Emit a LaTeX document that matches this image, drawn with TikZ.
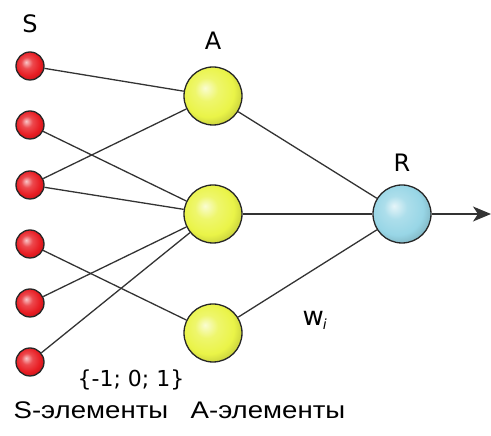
\documentclass[tikz,border=0pt]{standalone}
\usepackage{fontspec}
\setmainfont{DejaVu Sans}
\newfontfamily\capfont{Liberation Sans}
\usepackage{graphicx}
\usetikzlibrary{arrows.meta}

\definecolor{sred}{RGB}{232,28,34}
\definecolor{syellow}{RGB}{234,244,72}
\definecolor{sblue}{RGB}{152,214,230}

% soft sphere shading, light spot up and to the left
\colorlet{bulb}{sred}
\pgfdeclareradialshading[bulb]{bulb}{\pgfqpoint{-7bp}{7bp}}{%
    color(0bp)=(bulb!25!white); color(10bp)=(bulb!80!white);
    color(22bp)=(bulb); color(32bp)=(bulb!80!black); color(50bp)=(bulb!65!black)}

\tikzset{
    bulb color/.code={\colorlet{bulb}{#1}},
    neuron/.style={circle, draw=black!85, line width=1.3pt, shading=bulb, inner sep=0pt},
    sensor/.style={neuron, minimum size=28pt, bulb color=sred},
    assoc/.style={neuron, minimum size=58pt, bulb color=syellow},
    react/.style={neuron, minimum size=58pt, bulb color=sblue},
    synapse/.style={draw=black!80, line width=1.3pt},
    tag/.style={font=\fontsize{24}{24}\selectfont, inner sep=0pt, anchor=base},
    caption/.style={font=\capfont\fontsize{24}{24}\selectfont, inner sep=0pt, anchor=base west},
}

\begin{document}
\begin{tikzpicture}[x=1pt, y=1pt, line width=1.3pt]
	\useasboundingbox (0,0) rectangle (491,436);
	\node[sensor] (s1) at (30,370) {};
	\node[sensor] (s2) at (30,311) {};
	\node[sensor] (s3) at (30,251) {};
	\node[sensor] (s4) at (30,192) {};
	\node[sensor] (s5) at (30,133) {};
	\node[sensor] (s6) at (30,74) {};
	\node[assoc] (a1) at (213,340) {};
	\node[assoc] (a2) at (213,222) {};
	\node[assoc] (a3) at (213,103) {};
	\node[react] (r) at (402,222) {};
	\coordinate (out) at (491,222);
	%
	\draw[synapse] (s1) -- (a1);
	\draw[synapse] (s2) -- (a2);
	\draw[synapse] (s3) -- (a1);
	\draw[synapse] (s3) -- (a2);
	\draw[synapse] (s4) -- (a3);
	\draw[synapse] (s5) -- (a2);
	\draw[synapse] (s6) -- (a2);
	\draw[synapse] (a1) -- (r);
	\draw[synapse] (a2) -- (r);
	\draw[synapse] (a3) -- (r);
	\draw[synapse, -{Stealth[length=18pt, width=15pt, inset=5pt]}] (r) -- (out);
	%
	\node[tag] (stitle) at (30,403) {S};
	\node[tag] (atitle) at (213,386) {A};
	\node[tag] (rtitle) at (402,264) {R};
	\node[tag, anchor=base west, font=\fontsize{26}{26}\selectfont] (weight) at (302,110) {w\kern-1pt\raisebox{-4pt}{\fontsize{14}{14}\selectfont\itshape i}};
	\node[tag, font=\fontsize{22}{22}\selectfont] (values) at (131,49) {\{-1; 0; 1\}};
	\node[caption] (scap) at (13,17) {\scalebox{1.15}[1]{S-элементы}};
	\node[caption] (acap) at (190,17) {\scalebox{1.15}[1]{A-элементы}};
\end{tikzpicture}
\end{document}
